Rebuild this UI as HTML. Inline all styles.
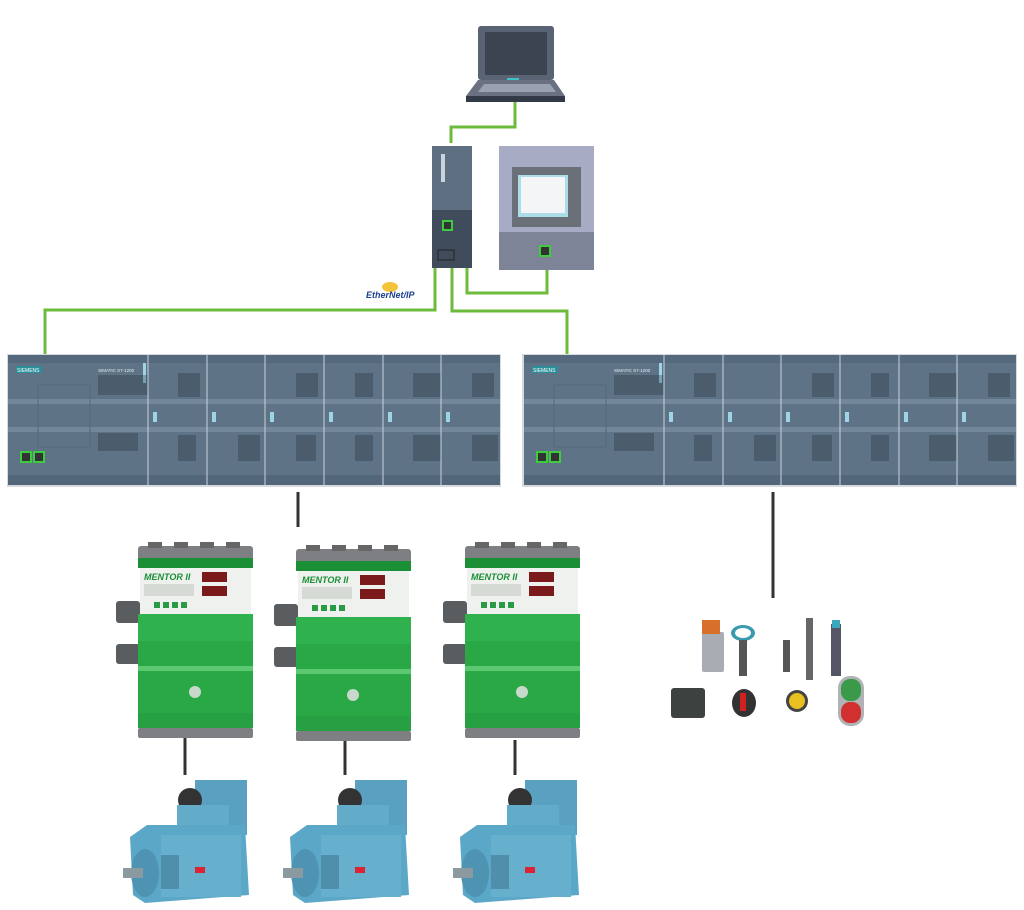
<!DOCTYPE html>
<html><head><meta charset="utf-8"><style>html,body{margin:0;padding:0;background:#fff;}svg{display:block}</style></head>
<body>
<svg width="1024" height="910" viewBox="0 0 1024 910" xmlns="http://www.w3.org/2000/svg" font-family="Liberation Sans, sans-serif">
<defs>
<g id="drive">
  <rect x="-22" y="55" width="24" height="22" rx="3" fill="#5a5d60"/>
  <rect x="-22" y="98" width="24" height="20" rx="3" fill="#5a5d60"/>
  <rect x="0" y="0" width="115" height="14" rx="3" fill="#7d7f83"/>
  <rect x="10" y="-4" width="14" height="6" fill="#666"/><rect x="36" y="-4" width="14" height="6" fill="#666"/><rect x="62" y="-4" width="14" height="6" fill="#666"/><rect x="88" y="-4" width="14" height="6" fill="#666"/>
  <rect x="0" y="12" width="115" height="10" fill="#1a8f35"/>
  <rect x="2" y="22" width="111" height="46" fill="#eef1ee"/>
  <text x="6" y="34" font-size="9" font-weight="bold" font-style="italic" fill="#1a8f35">MENTOR II</text>
  <rect x="64" y="26" width="25" height="10" fill="#7a1a1a"/><rect x="64" y="40" width="25" height="10" fill="#7a1a1a"/>
  <rect x="6" y="38" width="50" height="12" fill="#d5dad5"/>
  <rect x="16" y="56" width="6" height="6" fill="#2a9a45"/><rect x="25" y="56" width="6" height="6" fill="#2a9a45"/><rect x="34" y="56" width="6" height="6" fill="#2a9a45"/><rect x="43" y="56" width="6" height="6" fill="#2a9a45"/>
  <rect x="0" y="68" width="115" height="27" fill="#2fb24d"/>
  <rect x="0" y="95" width="115" height="25" fill="#2aa846"/>
  <rect x="0" y="120" width="115" height="5" fill="#5cc872"/>
  <rect x="0" y="125" width="115" height="42" fill="#2aa846"/>
  <rect x="0" y="167" width="115" height="15" fill="#27a043"/>
  <circle cx="57" cy="146" r="6" fill="#c9d8cc"/>
  <rect x="0" y="182" width="115" height="10" rx="2" fill="#7d7f83"/>
</g>
<g id="motor">
  <rect x="70" y="5" width="52" height="55" fill="#5aa0c0"/>
  <circle cx="65" cy="25" r="12" fill="#333"/>
  <rect x="52" y="30" width="52" height="30" fill="#62acc9"/>
  <path d="M5 62 L22 50 L120 50 L124 120 L20 128 L8 120 Z" fill="#5ba7c7"/>
  <rect x="36" y="60" width="80" height="62" fill="#66b0cd"/>
  <rect x="36" y="80" width="18" height="34" fill="#4f8fab"/>
  <rect x="70" y="92" width="10" height="6" fill="#d23"/>
  <ellipse cx="20" cy="98" rx="14" ry="24" fill="#4e93b2"/>
  <rect x="-2" y="93" width="20" height="10" fill="#8a9aa0"/>
</g>
<g id="plc">
  <rect x="0" y="0" width="492" height="130" fill="#5f7386"/>
  <rect x="0" y="0" width="492" height="8" fill="#55697c"/>
  <rect x="0" y="44" width="492" height="5" fill="#72879a"/>
  <rect x="0" y="72" width="492" height="5" fill="#72879a"/>
  <rect x="0" y="120" width="492" height="10" fill="#52667a"/>
  <rect x="8" y="11" width="26" height="7" fill="#2b8f9a"/>
  <text x="9" y="17" font-size="5" fill="#fff">SIEMENS</text>
  <text x="90" y="17" font-size="4.5" fill="#e6ecf2">SIMATIC S7-1200</text>
  <rect x="135" y="8" width="3" height="20" fill="#9fd4e6"/>
  <rect x="30" y="30" width="52" height="62" fill="none" stroke="#566a7c"/>
  <rect x="12" y="96" width="12" height="12" fill="#3dcc3d"/><rect x="14" y="98" width="8" height="8" fill="#333"/>
  <rect x="25" y="96" width="12" height="12" fill="#3dcc3d"/><rect x="27" y="98" width="8" height="8" fill="#333"/>
  <g fill="#1e2a36" opacity="0.3">
   <rect x="90" y="20" width="50" height="20"/><rect x="90" y="78" width="40" height="18"/>
   <rect x="170" y="18" width="22" height="24"/><rect x="170" y="80" width="18" height="26"/>
   <rect x="230" y="80" width="22" height="26"/>
   <rect x="288" y="18" width="22" height="24"/><rect x="288" y="80" width="20" height="26"/>
   <rect x="347" y="18" width="18" height="24"/><rect x="347" y="80" width="18" height="26"/>
   <rect x="405" y="18" width="28" height="24"/><rect x="405" y="80" width="28" height="26"/>
   <rect x="464" y="18" width="22" height="24"/><rect x="464" y="80" width="26" height="26"/>
  </g>
  <g fill="#9fd4e6"><rect x="145" y="57" width="4" height="10"/><rect x="204" y="57" width="4" height="10"/><rect x="262" y="57" width="4" height="10"/><rect x="321" y="57" width="4" height="10"/><rect x="380" y="57" width="4" height="10"/><rect x="438" y="57" width="4" height="10"/></g>
  <g stroke="#c9d3dc" stroke-width="1"><line x1="140" y1="0" x2="140" y2="130"/><line x1="199" y1="0" x2="199" y2="130"/><line x1="257" y1="0" x2="257" y2="130"/><line x1="316" y1="0" x2="316" y2="130"/><line x1="375" y1="0" x2="375" y2="130"/><line x1="433" y1="0" x2="433" y2="130"/></g>
</g>
</defs>

<g stroke="#6cbb3c" stroke-width="3" fill="none">
  <polyline points="515,102 515,127 451,127 451,143"/>
  <polyline points="467,268 467,293 547,293 547,270"/>
  <polyline points="435,268 435,310 45,310 45,355"/>
  <polyline points="452,268 452,311 567,311 567,355"/>
</g>
<g stroke="#333" stroke-width="3">
  <line x1="298" y1="492" x2="298" y2="527"/>
  <line x1="773" y1="492" x2="773" y2="598"/>
  <line x1="185" y1="737" x2="185" y2="775"/>
  <line x1="345" y1="740" x2="345" y2="775"/>
  <line x1="515" y1="740" x2="515" y2="775"/>
</g>

<rect x="478" y="26" width="76" height="54" rx="3" fill="#5a6373"/>
<rect x="485" y="32" width="62" height="43" fill="#3c4452"/>
<rect x="507" y="78" width="12" height="3" fill="#3ec1c9"/>
<path d="M478 80 L554 80 L565 96 L466 96 Z" fill="#6a7282"/>
<path d="M484 84 L550 84 L556 92 L478 92 Z" fill="#99a3b0"/>
<rect x="466" y="96" width="99" height="6" fill="#323a47"/>

<rect x="432" y="146" width="40" height="120" fill="#5f6f82"/>
<rect x="432" y="210" width="40" height="58" fill="#404c5c"/>
<rect x="441" y="154" width="4" height="28" fill="#c9d3dc"/>
<rect x="442" y="220" width="11" height="11" fill="#3dcc3d"/><rect x="444" y="222" width="7" height="7" fill="#333"/>
<rect x="438" y="250" width="16" height="10" fill="none" stroke="#222"/>
<rect x="499" y="146" width="95" height="124" fill="#a7abc4"/>
<rect x="499" y="232" width="95" height="38" fill="#7d8497"/>
<rect x="512" y="167" width="69" height="60" fill="#6b6f78"/>
<rect x="518" y="175" width="50" height="42" fill="#aadde8"/>
<rect x="521" y="177" width="44" height="36" fill="#f3f5f6"/>
<rect x="539" y="245" width="12" height="12" fill="#3dcc3d"/><rect x="541" y="247" width="8" height="8" fill="#333"/>

<ellipse cx="390" cy="287" rx="8" ry="5" fill="#f3c43a"/>
<text x="366" y="298" font-size="9" font-style="italic" font-weight="bold" fill="#1c3f8f">EtherNet/IP</text>

<rect x="7" y="354" width="494" height="133" fill="#d6dade"/>
<use href="#plc" x="8" y="355"/>
<rect x="522" y="354" width="495" height="133" fill="#d6dade"/>
<use href="#plc" x="524" y="355"/>

<use href="#drive" x="138" y="546"/>
<use href="#drive" x="296" y="549"/>
<use href="#drive" x="465" y="546"/>

<use href="#motor" x="125" y="775"/>
<use href="#motor" x="285" y="775"/>
<use href="#motor" x="455" y="775"/>

<rect x="702" y="632" width="22" height="40" rx="2" fill="#a9adb3"/>
<rect x="702" y="620" width="18" height="14" fill="#d8702a"/>
<ellipse cx="743" cy="633" rx="12" ry="8" fill="#3a9ab0"/><ellipse cx="743" cy="633" rx="8" ry="5" fill="#fff"/>
<rect x="739" y="640" width="8" height="36" fill="#555"/>
<rect x="783" y="640" width="7" height="32" fill="#555"/>
<rect x="806" y="618" width="7" height="62" fill="#666"/>
<rect x="831" y="624" width="10" height="52" fill="#556"/>
<rect x="832" y="620" width="8" height="8" fill="#3aa9c0"/>
<rect x="671" y="688" width="34" height="30" rx="3" fill="#3d4140"/>
<ellipse cx="744" cy="703" rx="12" ry="14" fill="#333"/><rect x="740" y="693" width="6" height="18" fill="#d02020"/>
<circle cx="797" cy="701" r="11" fill="#444"/><circle cx="797" cy="701" r="8" fill="#e8c020"/>
<rect x="838" y="676" width="26" height="50" rx="12" fill="#b0b3b6"/>
<rect x="841" y="679" width="20" height="22" rx="9" fill="#3a9a4a"/>
<rect x="841" y="702" width="20" height="21" rx="9" fill="#d23030"/>
</svg>
</body></html>
